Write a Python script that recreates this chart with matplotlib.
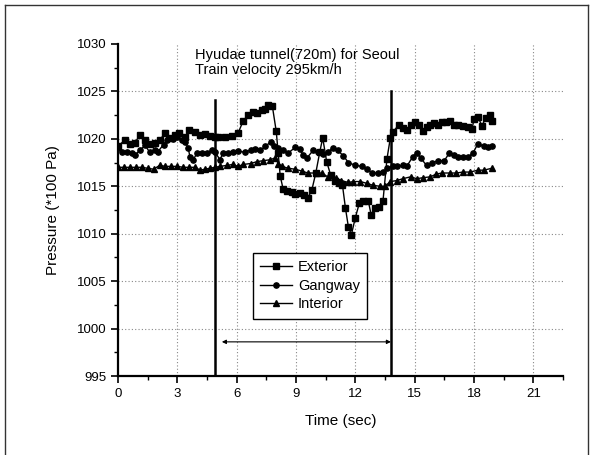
import matplotlib.pyplot as plt
from matplotlib.lines import Line2D

plt.rcParams['font.family'] = ['Liberation Sans', 'DejaVu Sans']

# --- data ---
ext_t = [0, 0.35, 0.6, 0.86, 1.1, 1.37, 1.6, 1.87, 2.1, 2.4, 2.6, 2.9, 3.1, 3.4, 3.6,
         3.9, 4.15, 4.4, 4.65, 4.9, 5.06, 5.4, 5.77, 6.07, 6.33, 6.58, 6.83, 7.03, 7.29, 7.44,
         7.6, 7.8, 8.0, 8.1, 8.2, 8.35, 8.55, 8.8, 8.96, 9.2, 9.4, 9.6, 9.8, 10.0, 10.2,
         10.35, 10.55, 10.75, 10.95, 11.15, 11.35, 11.5, 11.65, 11.8, 12.0, 12.2, 12.4, 12.65, 12.8, 13.0,
         13.2, 13.4, 13.6, 13.77, 13.9, 14.2, 14.4, 14.6, 14.8, 15.0, 15.2, 15.4, 15.6, 15.8, 16.0,
         16.2, 16.4, 16.6, 16.8, 17.0, 17.2, 17.45, 17.7, 17.9, 18.0, 18.2, 18.4, 18.6, 18.8, 18.9]
ext_p = [1019.2, 1019.9, 1019.5, 1019.6, 1020.4, 1019.9, 1019.5, 1019.6, 1019.9, 1020.6,
         1020.1, 1020.4, 1020.6, 1020.2, 1020.9, 1020.7, 1020.4, 1020.5, 1020.3, 1020.2,
         1020.2, 1020.2, 1020.3, 1020.6, 1021.9, 1022.5, 1022.8, 1022.7, 1023.0, 1023.1,
         1023.6, 1023.5, 1020.8, 1018.5, 1016.1, 1014.7, 1014.5, 1014.4, 1014.2, 1014.3,
         1014.1, 1013.8, 1014.6, 1016.4, 1018.6, 1020.1, 1017.6, 1016.2, 1015.6, 1015.3,
         1015.1, 1012.7, 1010.7, 1009.9, 1011.7, 1013.2, 1013.5, 1013.5, 1012.0, 1012.7,
         1012.8, 1013.5, 1017.9, 1020.1, 1020.7, 1021.5, 1021.1, 1020.9, 1021.5, 1021.8,
         1021.5, 1020.8, 1021.2, 1021.5, 1021.7, 1021.5, 1021.8, 1021.8, 1021.9, 1021.5,
         1021.5, 1021.4, 1021.2, 1021.0, 1022.1, 1022.3, 1021.4, 1022.2, 1022.5, 1021.9]

gang_t = [0, 0.2, 0.45, 0.7, 0.86, 1.1, 1.37, 1.6, 1.87, 2.0, 2.3, 2.5, 2.8, 3.0, 3.25,
          3.4, 3.55, 3.64, 3.8, 4.0, 4.25, 4.5, 4.76, 4.9, 5.16, 5.3, 5.55, 5.8, 6.07, 6.4,
          6.7, 6.93, 7.2, 7.44, 7.74, 7.9, 8.1, 8.35, 8.6, 8.96, 9.2, 9.36, 9.56, 9.87, 10.1,
          10.35, 10.6, 10.85, 11.1, 11.4, 11.65, 12.0, 12.35, 12.6, 12.85, 13.15, 13.4, 13.6, 13.9, 14.1,
          14.4, 14.6, 14.9, 15.1, 15.3, 15.6, 15.9, 16.2, 16.5, 16.75, 17.0, 17.2, 17.45, 17.7, 17.95,
          18.2, 18.5, 18.7, 18.9]
gang_p = [1019.0, 1018.6, 1018.6, 1018.5, 1018.3, 1018.8, 1019.3, 1018.6, 1018.8, 1018.6,
          1019.4, 1019.9, 1020.0, 1020.2, 1019.9, 1019.7, 1019.0, 1018.1, 1017.8, 1018.5,
          1018.5, 1018.5, 1018.8, 1018.6, 1017.8, 1018.5, 1018.5, 1018.6, 1018.7, 1018.6,
          1018.8, 1018.9, 1018.8, 1019.2, 1019.7, 1019.2, 1019.0, 1018.8, 1018.5, 1019.1,
          1018.9, 1018.3, 1018.0, 1018.8, 1018.6, 1018.4, 1018.6, 1019.0, 1018.8, 1018.2,
          1017.5, 1017.2, 1017.1, 1016.8, 1016.4, 1016.4, 1016.5, 1016.9, 1017.1, 1017.1,
          1017.2, 1017.1, 1018.1, 1018.5, 1018.0, 1017.2, 1017.5, 1017.7, 1017.7, 1018.5,
          1018.3, 1018.1, 1018.1, 1018.1, 1018.5, 1019.5, 1019.2, 1019.1, 1019.2]

int_t = [0, 0.3, 0.6, 0.9, 1.2, 1.5, 1.8, 2.1, 2.4, 2.7, 3.0, 3.3, 3.6, 3.9, 4.15,
         4.4, 4.65, 4.9, 5.16, 5.5, 5.8, 6.07, 6.33, 6.7, 7.03, 7.34, 7.7, 7.95, 8.1, 8.3,
         8.6, 8.96, 9.3, 9.6, 10.0, 10.3, 10.6, 11.0, 11.3, 11.65, 11.9, 12.25, 12.6, 12.9, 13.25,
         13.5, 13.77, 14.1, 14.4, 14.8, 15.1, 15.4, 15.8, 16.1, 16.4, 16.8, 17.1, 17.45, 17.8, 18.2,
         18.5, 18.9]
int_p = [1017.0, 1017.0, 1017.0, 1017.0, 1017.0, 1016.9, 1016.8, 1017.2, 1017.1, 1017.1,
         1017.1, 1017.0, 1017.0, 1017.0, 1016.7, 1016.8, 1016.9, 1017.0, 1017.1, 1017.2,
         1017.3, 1017.1, 1017.3, 1017.4, 1017.6, 1017.7, 1017.8, 1018.0, 1017.4, 1017.1,
         1016.9, 1016.8, 1016.6, 1016.4, 1016.4, 1016.4, 1016.0, 1015.9, 1015.6, 1015.4,
         1015.5, 1015.5, 1015.3, 1015.1, 1015.0, 1015.0, 1015.5, 1015.6, 1015.8, 1016.0,
         1015.8, 1015.9, 1016.0, 1016.3, 1016.4, 1016.4, 1016.4, 1016.5, 1016.5, 1016.7,
         1016.7, 1016.9]

# tunnel entry / exit times and heights of the marker lines
entry_t, exit_t = 4.9, 13.8
entry_top, exit_top = 1024.1, 1025.0
arrow_t0, arrow_y = 5.25, 998.6

x_ticks = [0, 3, 6, 9, 12, 15, 18, 21]
y_ticks = [995, 1000, 1005, 1010, 1015, 1020, 1025, 1030]

fig = plt.figure(figsize=(5.91, 4.55), dpi=100)
ax = fig.add_axes([0.1997, 0.1736, 0.7529, 0.7297])

# dotted grid (only inside lines)
for xv in x_ticks[1:]:
    ax.axvline(xv, color='#888888', ls=(0, (1, 2)), lw=0.8, zorder=0)
for yv in y_ticks[1:-1]:
    ax.axhline(yv, color='#888888', ls=(0, (1, 2)), lw=0.8, zorder=0)

ax.plot(ext_t, ext_p, color='black', lw=1.0, marker='s', ms=3.8, label='Exterior')
ax.plot(gang_t, gang_p, color='black', lw=1.0, marker='o', ms=3.8, label='Gangway')
ax.plot(int_t, int_p, color='black', lw=1.0, marker='^', ms=4.0, label='Interior')

ax.plot([entry_t, entry_t], [995, entry_top], color='black', lw=1.8)
ax.plot([exit_t, exit_t], [995, exit_top], color='black', lw=1.8)
ax.annotate('', xy=(arrow_t0, arrow_y), xytext=(exit_t, arrow_y),
            arrowprops=dict(arrowstyle='<|-|>', color='black', lw=0.8,
                            mutation_scale=6, shrinkA=0, shrinkB=0))

ax.text(3.9, 1029.6, 'Hyudae tunnel(720m) for Seoul\nTrain velocity 295km/h',
        fontsize=10.5, va='top', ha='left', linespacing=1.1)

ax.set_xlim(0, 22.5)
ax.set_ylim(995, 1030)
ax.set_xticks(x_ticks)
ax.set_yticks(y_ticks)
ax.set_xticks([1.5 + 3 * i for i in range(8)], minor=True)
ax.set_yticks([997.5 + 5 * i for i in range(7)], minor=True)
ax.tick_params(axis='both', which='major', direction='out', length=5, width=1.2,
               labelsize=9.5)
ax.tick_params(axis='both', which='minor', direction='out', length=3, width=1.0)

for s in ['top', 'right']:
    ax.spines[s].set_visible(False)
for s in ['left', 'bottom']:
    ax.spines[s].set_linewidth(1.6)

ax.set_xlabel('Time (sec)', fontsize=11, labelpad=10)
ax.set_ylabel('Pressure (*100 Pa)', fontsize=11, labelpad=12)

leg = ax.legend(loc='upper left', bbox_to_anchor=(0.303, 0.37), borderaxespad=0,
                fancybox=False, edgecolor='black', framealpha=1, fontsize=10.5,
                handlelength=2.2, borderpad=0.5, labelspacing=0.3, handletextpad=0.4)
leg.get_frame().set_linewidth(1.0)

# page border
for xs, ys in [([0.009, 0.009], [0.0, 0.99]), ([0.009, 0.995], [0.99, 0.99]),
               ([0.995, 0.995], [0.0, 0.99])]:
    fig.add_artist(Line2D(xs, ys, transform=fig.transFigure, color='#333333', lw=1.0))

fig.savefig('out.png', dpi=100)
